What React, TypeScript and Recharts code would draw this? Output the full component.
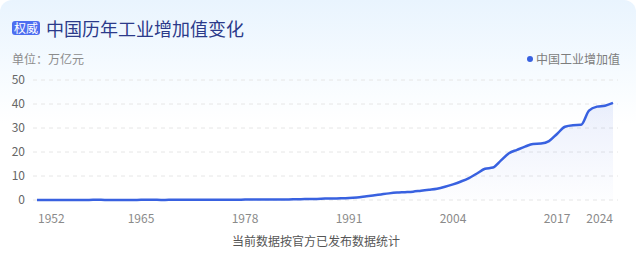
import React from "react";
import { Area, AreaChart, CartesianGrid, XAxis, YAxis } from "recharts";

// 中国工业增加值（万亿元），1952–2024
const years: number[] = [
  1952, 1953, 1954, 1955, 1956, 1957, 1958, 1959, 1960, 1961, 1962, 1963,
  1964, 1965, 1966, 1967, 1968, 1969, 1970, 1971, 1972, 1973, 1974, 1975,
  1976, 1977, 1978, 1979, 1980, 1981, 1982, 1983, 1984, 1985, 1986, 1987,
  1988, 1989, 1990, 1991, 1992, 1993, 1994, 1995, 1996, 1997, 1998, 1999,
  2000, 2001, 2002, 2003, 2004, 2005, 2006, 2007, 2008, 2009, 2010, 2011,
  2012, 2013, 2014, 2015, 2016, 2017, 2018, 2019, 2020, 2021, 2022, 2023,
  2024,
];

const industryValues: number[] = [
  0.012, 0.016, 0.018, 0.019, 0.022, 0.027, 0.048, 0.054, 0.057, 0.036,
  0.032, 0.035, 0.045, 0.055, 0.065, 0.054, 0.049, 0.062, 0.083, 0.092,
  0.096, 0.104, 0.104, 0.118, 0.111, 0.127, 0.162, 0.179, 0.2, 0.206, 0.216,
  0.238, 0.279, 0.345, 0.397, 0.459, 0.578, 0.648, 0.686, 0.809, 1.07, 1.46,
  1.87, 2.32, 2.76, 3.09, 3.27, 3.48, 3.89, 4.27, 4.7, 5.5, 6.52, 7.72, 9.14,
  11.05, 13.03, 13.52, 16.51, 19.51, 20.89, 22.23, 23.34, 23.5, 24.54, 27.52,
  30.52, 31.16, 31.31, 37.26, 38.9, 39.3, 40.5,
];

const xTicks: number[] = [1952, 1965, 1978, 1991, 2004, 2017, 2024];
const yTicks: number[] = [0, 10, 20, 30, 40, 50];

const data = years.map((year, i) => ({ year, value: industryValues[i] }));

const FONT = '"Noto Sans CJK SC", "Noto Sans", sans-serif';
const LINE = "#3861e0";

// first and last labels are pinned inside the plot edges
const YearTick = (props: any) => {
  const { x, y, payload, index } = props;
  let anchor: "start" | "middle" | "end" = "middle";
  let dx = 0;
  if (index === 0) {
    anchor = "start";
    dx = 1;
  } else if (index === xTicks.length - 1) {
    anchor = "end";
  }
  return (
    <text
      x={x + dx}
      y={y}
      dy="0.71em"
      textAnchor={anchor}
      fill="#8a8a8a"
      fontSize={12}
      fontFamily={FONT}
    >
      {payload.value}
    </text>
  );
};

export default function App() {
  return (
    <div
      style={{
        position: "absolute",
        left: 0,
        top: 0,
        width: 636,
        height: 258,
        background: "#fff",
        fontFamily: FONT,
      }}
    >
      <div
        style={{
          position: "absolute",
          inset: 0,
          borderRadius: 12,
          background:
            "linear-gradient(180deg, #e9f4fe 0%, #f6fbff 28%, #ffffff 48%)",
        }}
      />

      <div
        style={{
          position: "absolute",
          left: 12,
          top: 16,
          display: "flex",
          alignItems: "center",
          height: 24,
        }}
      >
        <span
          style={{
            background: "#4d6ef0",
            color: "#fff",
            fontSize: 12,
            lineHeight: "14px",
            padding: "0 2px",
            borderRadius: 3,
            marginRight: 6,
          }}
        >
          权威
        </span>
        <span style={{ color: "#2b3a8a", fontSize: 18, lineHeight: "24px" }}>
          中国历年工业增加值变化
        </span>
      </div>

      <div
        style={{
          position: "absolute",
          left: 12,
          top: 50,
          fontSize: 12,
          color: "#8c8c8c",
          lineHeight: "18px",
        }}
      >
        单位：万亿元
      </div>

      <div
        style={{
          position: "absolute",
          right: 16,
          top: 50,
          display: "flex",
          alignItems: "center",
          fontSize: 12,
          color: "#7d7d7d",
          lineHeight: "18px",
        }}
      >
        <span
          style={{
            width: 6,
            height: 6,
            borderRadius: 3,
            background: LINE,
            marginRight: 3,
          }}
        />
        中国工业增加值
      </div>

      <div style={{ position: "absolute", left: 0, top: 0 }}>
        <AreaChart
          width={636}
          height={258}
          data={data}
          margin={{ top: 80, right: 18, left: 0, bottom: 28 }}
        >
          <defs>
            <linearGradient id="industryFill" x1="0" y1="0" x2="0" y2="1">
              <stop offset="0%" stopColor={LINE} stopOpacity={0.1} />
              <stop offset="100%" stopColor={LINE} stopOpacity={0.01} />
            </linearGradient>
          </defs>
          <CartesianGrid
            strokeDasharray="4 4"
            stroke="#e6e6e6"
            vertical={false}
          />
          <XAxis
            dataKey="year"
            type="number"
            domain={[1952, 2024]}
            ticks={xTicks}
            padding={{ left: 4, right: 5 }}
            axisLine={false}
            tickLine={false}
            tickMargin={8}
            tick={<YearTick />}
            interval={0}
          />
          <YAxis
            width={33}
            domain={[0, 50]}
            ticks={yTicks}
            axisLine={false}
            tickLine={false}
            tick={{ fontSize: 12, fill: "#666", fontFamily: FONT }}
          />
          <Area
            type="monotone"
            dataKey="value"
            stroke={LINE}
            strokeWidth={2.5}
            fill="url(#industryFill)"
            fillOpacity={1}
            dot={false}
            activeDot={false}
            isAnimationActive={false}
          />
        </AreaChart>
      </div>

      <div
        style={{
          position: "absolute",
          left: 0,
          width: 632,
          top: 232,
          textAlign: "center",
          fontSize: 12,
          color: "#555",
          lineHeight: "18px",
        }}
      >
        当前数据按官方已发布数据统计
      </div>
    </div>
  );
}
